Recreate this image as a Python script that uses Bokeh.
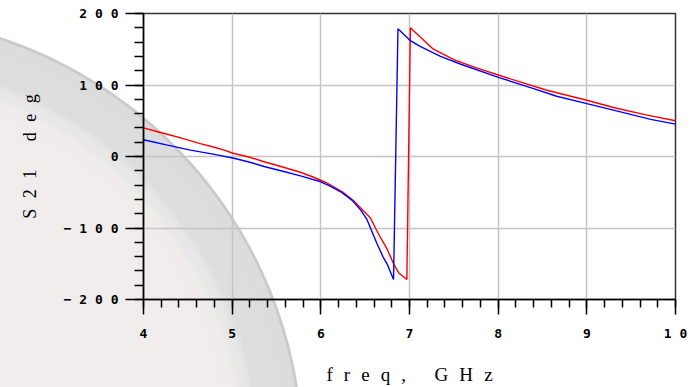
from bokeh.plotting import figure
from bokeh.embed import file_html
from bokeh.resources import INLINE
from bokeh.models import FixedTicker

# S21 phase (deg) vs frequency (GHz)
red_f = [4.0, 4.15, 4.3, 4.45, 4.64, 4.8, 4.91, 5.01, 5.2, 5.35, 5.55, 5.77, 5.92, 6.05, 6.14,
         6.25, 6.37, 6.48, 6.56, 6.62, 6.68, 6.75, 6.82, 6.88, 6.97, 7.01, 7.26, 7.5, 7.73,
         8.01, 8.21, 8.55, 9.0, 9.3, 9.68, 10.0]
red_deg = [40, 35, 30, 25, 18, 13, 9, 4.5, -1, -7, -14, -22, -29, -36, -42,
           -50, -62, -76, -86, -101, -115, -130, -150, -163, -172, 180, 151, 135.5, 125,
           113.6, 105.7, 92.7, 78.7, 68.6, 57.8, 50]

blue_f = [4.0, 4.27, 4.53, 4.8, 5.02, 5.2, 5.36, 5.55, 5.77, 5.99, 6.1, 6.22, 6.35, 6.45, 6.52,
          6.63, 6.7, 6.75, 6.82, 6.87, 7.01, 7.12, 7.35, 7.58, 8.01, 8.4, 8.66, 9.0, 9.38,
          9.72, 10.0]
blue_deg = [23.4, 16, 9, 3, -2.5, -8, -14, -20, -27, -35, -41, -49, -61, -75, -88,
            -121, -140, -151, -172, 178.6, 162, 154, 140, 129, 110.4, 95, 84.3, 74, 62.4,
            52, 45.3]

x_ticks = [4, 5, 6, 7, 8, 9, 10]
x_tick_labels = ["4", "5", "6", "7", "8", "9", "1 0"]
y_ticks = [-200, -100, 0, 100, 200]
y_tick_labels = ["\u2212 2 0 0", "\u2212 1 0 0", "0", "1 0 0", "2 0 0"]

p = figure(width=696, height=387, x_range=(4, 10), y_range=(-200, 200),
           output_backend="svg", toolbar_location=None,
           min_border_left=143, min_border_right=21, min_border_top=13, min_border_bottom=87)

p.background_fill_alpha = 0
p.border_fill_alpha = 0
p.styles = {"background": (
    "radial-gradient(circle at -139px 457px, "
    "#f2eeed 0px, #f0ecec 379px, #e9e9e9 383px, #e6e6e6 393px, "
    "#dedede 398px, #dcdcdc 439px, #c8c8c8 440.5px, #cccccc 442px, #ffffff 443px)")}

p.outline_line_color = "#333333"
p.outline_line_width = 1.5
p.outline_line_alpha = 1

p.line(red_f, red_deg, color="#ff0000", line_width=1.4)
p.line(blue_f, blue_deg, color="#0000ff", line_width=1.4)

tick_font = "DejaVu Sans Mono"
for ax in (p.xaxis[0], p.yaxis[0]):
    ax.axis_line_color = "black"
    ax.axis_line_width = 1.5
    ax.major_tick_line_color = "black"
    ax.major_tick_line_width = 1.5
    ax.minor_tick_line_color = "black"
    ax.minor_tick_line_width = 1.5
    ax.major_tick_in = 0
    ax.minor_tick_in = 0
    ax.major_label_text_font = tick_font
    ax.major_label_text_font_style = "bold"
    ax.major_label_text_font_size = "13px"
    ax.major_label_text_color = "black"
    ax.axis_label_text_font = "Liberation Serif"
    ax.axis_label_text_font_style = "normal"
    ax.axis_label_text_color = "black"

p.xaxis[0].ticker = FixedTicker(ticks=x_ticks,
                                minor_ticks=[4 + 0.2 * i for i in range(31)])
p.xaxis[0].major_label_overrides = {t: l for t, l in zip(x_ticks, x_tick_labels)}
p.xaxis[0].major_tick_out = 15
p.xaxis[0].minor_tick_out = 8
p.xaxis[0].major_label_standoff = 11
p.xaxis[0].axis_label = "f\u2002\u200ar\u2002\u200ae\u2002\u200aq\u2002\u200a,\u2003\u2002G\u2002\u200aH\u2002\u200az"
p.xaxis[0].axis_label_text_font_size = "19px"
p.xaxis[0].axis_label_standoff = 20

p.yaxis[0].ticker = FixedTicker(ticks=y_ticks,
                                minor_ticks=[-200 + 20 * i for i in range(21)])
p.yaxis[0].major_label_overrides = {t: l for t, l in zip(y_ticks, y_tick_labels)}
p.yaxis[0].major_tick_out = 18
p.yaxis[0].minor_tick_out = 9
p.yaxis[0].major_label_standoff = 7
p.yaxis[0].axis_label = "S\u2002\u200a2\u2002\u200a1\u2003\u2002\u200ad\u2002\u200ae\u2002\u200ag"
p.yaxis[0].axis_label_text_font_size = "18px"
p.yaxis[0].axis_label_standoff = 21

p.xgrid[0].ticker = FixedTicker(ticks=x_ticks)
p.ygrid[0].ticker = FixedTicker(ticks=y_ticks)
p.grid.grid_line_color = "#c4c4c4"
p.grid.grid_line_width = 1.5

open("out.html", "w").write(file_html(p, INLINE))
